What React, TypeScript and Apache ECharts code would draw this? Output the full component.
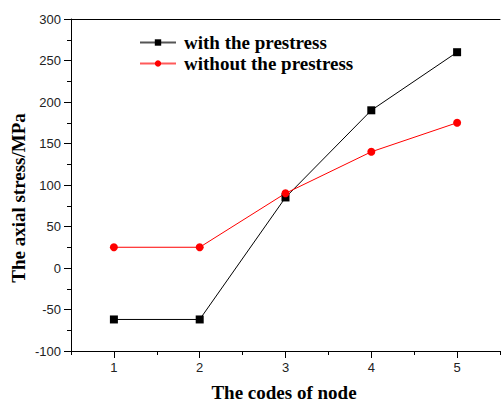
import React, { useEffect, useRef } from "react";
import * as echarts from "echarts";

const nodes = [1, 2, 3, 4, 5];
const withPrestress = [-62, -62, 85, 190, 260];
const withoutPrestress = [25, 25, 90, 140, 175];
const seriesNames = ["with the prestress", "without the prestress"];
const xName = "The codes of node";
const yName = "The axial stress/MPa";

export default function App() {
  const ref = useRef<HTMLDivElement>(null);
  useEffect(() => {
    document.body.style.margin = "0";
    const chart = echarts.init(ref.current!, null, { renderer: "svg" });
    const serif = "'Liberation Serif', 'Times New Roman', serif";
    const sans = "'Liberation Sans', Arial, sans-serif";
    const xMin = 0.5;
    const xMax = 5.5;
    chart.setOption({
      animation: false,
      backgroundColor: "#fff",
      grid: {
        left: 71,
        top: 19,
        width: 429,
        height: 332,
        show: false,
      },
      legend: {
        left: 139,
        top: 33,
        padding: 0,
        orient: "vertical",
        itemWidth: 36,
        itemHeight: 8,
        itemGap: 2,
        data: [
          { name: seriesNames[0], lineStyle: { color: "#555" } },
          { name: seriesNames[1], lineStyle: { color: "#ff5a5a" } },
        ],
        textStyle: { fontFamily: serif, fontWeight: "bold", fontSize: 19, lineHeight: 19, color: "#000", padding: [0, 0, 0, 3] },
      },
      xAxis: [
        {
          type: "value",
          min: xMin,
          max: xMax,
          axisLine: { show: true, onZero: false, lineStyle: { color: "#000", width: 1 } },
          axisTick: { show: true, length: 7, lineStyle: { color: "#000" }, customValues: nodes },
          axisLabel: { customValues: nodes, color: "#222", fontFamily: sans, fontSize: 13, margin: 10 },
          splitLine: { show: false },
        },
        {
          type: "value",
          min: xMin,
          max: xMax,
          interval: 0.5,
          position: "bottom",
          axisLine: { show: false, onZero: false },
          axisTick: { show: true, length: 4, lineStyle: { color: "#000" } },
          axisLabel: { show: false },
          splitLine: { show: false },
        },
        {
          type: "value",
          min: xMin,
          max: xMax,
          position: "top",
          axisLine: { show: true, onZero: false, lineStyle: { color: "#000", width: 1 } },
          axisTick: { show: false },
          axisLabel: { show: false },
          splitLine: { show: false },
        },
      ],
      yAxis: {
        type: "value",
        min: -100,
        max: 300,
        interval: 50,
        axisLine: { show: true, onZero: false, lineStyle: { color: "#000", width: 1 } },
        axisTick: { show: true, length: 7, lineStyle: { color: "#000" } },
        minorTick: { show: true, splitNumber: 2, length: 4, lineStyle: { color: "#000" } },
        axisLabel: { color: "#222", fontFamily: sans, fontSize: 13, margin: 10 },
        splitLine: { show: false },
        minorSplitLine: { show: false },
      },
      graphic: [
        {
          type: "text",
          x: 284,
          y: 392,
          style: { text: xName, font: `bold 19px ${serif}`, fill: "#000", textAlign: "center", textVerticalAlign: "middle" },
        },
        {
          type: "text",
          x: 18,
          y: 198,
          rotation: Math.PI / 2,
          style: { text: yName, font: `bold 19px ${serif}`, fill: "#000", textAlign: "center", textVerticalAlign: "middle" },
        },
      ],
      series: [
        {
          name: seriesNames[0],
          type: "line",
          xAxisIndex: 0,
          data: nodes.map((n, i) => [n, withPrestress[i]]),
          symbol: "rect",
          symbolSize: 8,
          itemStyle: { color: "#000" },
          lineStyle: { color: "#000", width: 1 },
        },
        {
          name: seriesNames[1],
          type: "line",
          xAxisIndex: 0,
          data: nodes.map((n, i) => [n, withoutPrestress[i]]),
          symbol: "circle",
          symbolSize: 8,
          itemStyle: { color: "#ff0000" },
          lineStyle: { color: "#ff0000", width: 1 },
        },
      ],
    });
    return () => chart.dispose();
  }, []);
  return <div ref={ref} style={{ width: 501, height: 401 }} />;
}
